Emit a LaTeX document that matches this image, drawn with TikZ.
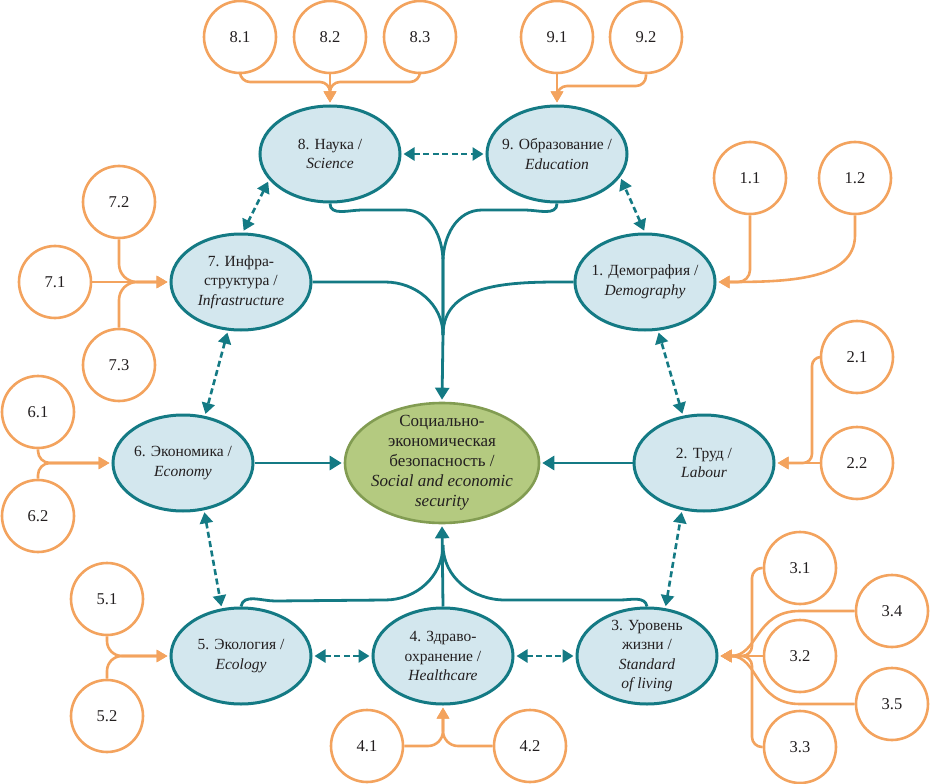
\documentclass[tikz,border=0pt]{standalone}
\usepackage{fontspec}
\setmainfont{Liberation Serif}
\usetikzlibrary{shapes.geometric,arrows.meta}
\definecolor{tealc}{RGB}{20,122,132}
\definecolor{lblue}{RGB}{211,231,238}
\definecolor{orng}{RGB}{243,163,94}
\definecolor{gfill}{RGB}{180,202,128}
\definecolor{gdraw}{RGB}{130,156,82}
\definecolor{txt}{RGB}{35,31,32}
\begin{document}
\begin{tikzpicture}[x=1pt,y=-1pt,
  topic/.style={ellipse, draw=tealc, line width=3pt, fill=lblue, minimum width=140pt, minimum height=96pt, inner sep=0pt},
  ttext/.style={align=center, text=txt, inner sep=0pt, font=\fontsize{15.5}{19.5}\selectfont},
  centre/.style={ellipse, draw=gdraw, line width=2.6pt, fill=gfill, minimum width=194pt, minimum height=120pt, inner sep=0pt},
  ctext/.style={align=center, text=txt, inner sep=0pt, font=\fontsize{17}{20}\selectfont},
  sub/.style={circle, draw=orng, line width=2.6pt, fill=white, minimum size=72pt, inner sep=0pt, text=txt, font=\fontsize{16.5}{19}\selectfont},
  oline/.style={draw=orng, line width=2.6pt},
  oarr/.style={oline, -{Triangle[length=11pt,width=12pt]}, shorten >=2pt},
  tline/.style={draw=tealc, line width=2.8pt},
  tarr/.style={tline, -{Triangle[length=12pt,width=14pt]}, shorten >=2pt},
  darr/.style={draw=tealc, line width=2.6pt, dash pattern=on 6pt off 3.5pt, {Triangle[length=11pt,width=13pt]}-{Triangle[length=11pt,width=13pt]}, shorten <=2pt, shorten >=2pt}
]
\useasboundingbox (0,0) rectangle (930,784);

% topic ellipses
\node[topic] (n8) at (330,154) {};
\node[ttext] (t8) at (n8) {8. Наука /\\\textit{Science}};
\node[topic] (n9) at (557,154) {};
\node[ttext] (t9) at (n9) {9. Образование /\\\textit{Education}};
\node[topic] (n7) at (241,282) {};
\node[ttext] (t7) at (n7) {7. Инфра-\\структура /\\\textit{Infrastructure}};
\node[topic] (n1) at (645,282) {};
\node[ttext] (t1) at (n1) {1. Демография /\\\textit{Demography}};
\node[topic] (n6) at (183,463) {};
\node[ttext] (t6) at (n6) {6. Экономика /\\\textit{Economy}};
\node[topic] (n2) at (704,463) {};
\node[ttext] (t2) at (n2) {2. Труд /\\\textit{Labour}};
\node[topic] (n5) at (241,656) {};
\node[ttext] (t5) at (n5) {5. Экология /\\\textit{Ecology}};
\node[topic] (n4) at (443,656) {};
\node[ttext] (t4) at (n4) {4. Здраво-\\охранение /\\\textit{Healthcare}};
\node[topic] (n3) at (647,656) {};
\node[ttext] (t3) at (n3) {3. Уровень\\жизни /\\\textit{Standard}\\\textit{of living}};
\node[centre] (nc) at (442,463) {};
\node[ctext] (tc) at (nc) {Социально-\\экономическая\\безопасность /\\\textit{Social and economic}\\\textit{security}};

% sub circles
\node[sub] (c81) at (240,37) {8.1};
\node[sub] (c82) at (330,37) {8.2};
\node[sub] (c83) at (420,37) {8.3};
\node[sub] (c91) at (557,37) {9.1};
\node[sub] (c92) at (646,37) {9.2};
\node[sub] (c72) at (119,202) {7.2};
\node[sub] (c71) at (55,282) {7.1};
\node[sub] (c73) at (119,365) {7.3};
\node[sub] (c11) at (750,178) {1.1};
\node[sub] (c12) at (855,178) {1.2};
\node[sub] (c21) at (857,357) {2.1};
\node[sub] (c22) at (857,463) {2.2};
\node[sub] (c61) at (38,412) {6.1};
\node[sub] (c62) at (38,516) {6.2};
\node[sub] (c51) at (107,599) {5.1};
\node[sub] (c52) at (107,716) {5.2};
\node[sub] (c41) at (367,746) {4.1};
\node[sub] (c42) at (530,746) {4.2};
\node[sub] (c31) at (800,568) {3.1};
\node[sub] (c34) at (892,611) {3.4};
\node[sub] (c32) at (800,656) {3.2};
\node[sub] (c35) at (892,704) {3.5};
\node[sub] (c33) at (800,747) {3.3};

% orange connectors
\coordinate (j8) at (330,82);
\coordinate (j9) at (557,86);
\coordinate (j2) at (812,463);
\coordinate (j3) at (752,656);
\draw[oarr, rounded corners=10pt] (c81.south) |- (j8) -- (n8.north);
\draw[oarr, rounded corners=10pt] (c83.south) |- (j8) -- (n8.north);
\draw[oarr] (c82.south) -- (n8.north);
\draw[oarr] (c91.south) -- (n9.north);
\draw[oarr, rounded corners=10pt] (c92.south) |- (j9) -- (n9.north);
\draw[oarr] (c71.east) -- (n7.west);
\draw[oarr, rounded corners=18pt] (c72.south) |- (n7.west);
\draw[oarr, rounded corners=18pt] (c73.north) |- (n7.west);
\draw[oarr, rounded corners=12pt] (c61.south) |- (n6.west);
\draw[oarr, rounded corners=12pt] (c62.north) |- (n6.west);
\draw[oarr, rounded corners=15pt] (c51.south) |- (n5.west);
\draw[oarr, rounded corners=15pt] (c52.north) |- (n5.west);
\draw[oarr, rounded corners=15pt] (c41.east) -| (n4.south);
\draw[oarr, rounded corners=15pt] (c42.west) -| (n4.south);
\draw[oarr, rounded corners=12pt] (c11.south) |- (n1.east);
\draw[oarr] (c12.south) -- ++(0,20) .. controls +(0,45) and +(70,0) .. (n1.east);
\draw[oarr] (c22.west) -- (n2.east);
\draw[oarr, rounded corners=9pt] (c21.west) -| (j2) -- (n2.east);
\draw[oarr] (c32.west) -- (n3.east);
\draw[oarr, rounded corners=10pt] (c31.west) -| (j3) -- (n3.east);
\draw[oarr, rounded corners=10pt] (c33.west) -| (j3) -- (n3.east);
\draw[oarr] (c34.west) -- ++(-55,0) .. controls +(-45,0) and +(40,0) .. (n3.east);
\draw[oarr] (c35.west) -- ++(-55,0) .. controls +(-45,0) and +(40,0) .. (n3.east);

% teal solid connectors
\coordinate (tt) at (443,335);
\coordinate (bb) at (443,545);
\draw[tline] (n8.south) to[out=-90,in=180] (362,210) -- (405,210) to[out=0,in=90] (443,262) -- (tt);
\draw[tline] (n9.south) to[out=-90,in=0] (525,210) -- (482,210) to[out=180,in=90] (443,262) -- (tt);
\draw[tline] (n7.east) -- (385,282) to[out=0,in=90] (tt);
\draw[tline] (n1.west) to[out=180,in=90] (tt);
\draw[tarr] (tt) -- (nc.north);
\draw[tarr] (n6.east) -- (nc.west);
\draw[tarr] (n2.west) -- (nc.east);
\draw[tarr] (n4.north) -- (nc.south);
\draw[tline] (n5.north) to[out=80,in=180] (275,601) -- (385,600) to[out=0,in=-90] (bb);
\draw[tline] (n3.north) to[out=100,in=0] (620,600) -- (505,600) to[out=180,in=-90] (bb);

% dashed double arrows
\draw[darr] (n8.east) -- (n9.west);
\draw[darr] (n8.203) -- (n7.88);
\draw[darr] (n7.255) -- (n6.65);
\draw[darr] (n6.294) -- (n5.112);
\draw[darr] (n5.east) -- (n4.west);
\draw[darr] (n4.east) -- (n3.west);
\draw[darr] (n3.69) -- (n2.245);
\draw[darr] (n2.114) -- (n1.285);
\draw[darr] (n1.90) -- (n9.340);
\end{tikzpicture}
\end{document}
